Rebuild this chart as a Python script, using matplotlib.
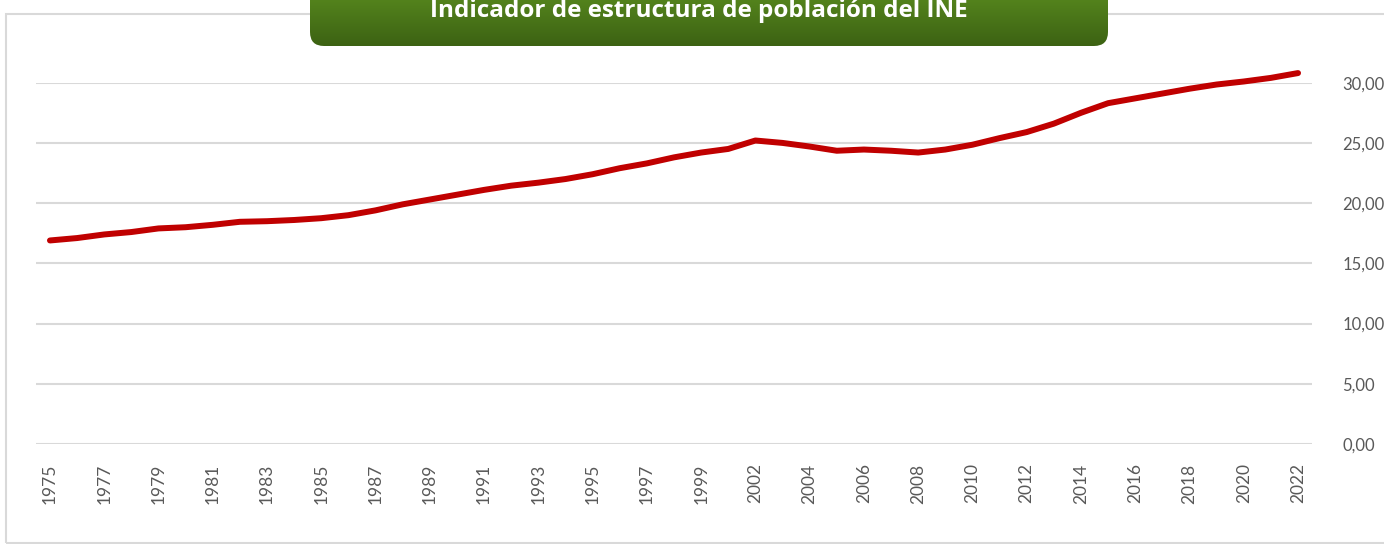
import numpy as np
import matplotlib
matplotlib.use("Agg")
from matplotlib import pyplot as plt
from matplotlib.patches import FancyBboxPatch, Rectangle

# datos (categorias del eje X)
anios = [str(a) for a in range(1975, 2001)] + [str(a) for a in range(2002, 2023)]
valores = [16.9, 17.1, 17.4, 17.6, 17.9, 18.0, 18.2, 18.45, 18.5, 18.6,
           18.75, 19.0, 19.4, 19.9, 20.3, 20.7, 21.1, 21.45, 21.7, 22.0,
           22.4, 22.9, 23.3, 23.8, 24.2, 24.5,
           25.2, 25.0, 24.7, 24.35, 24.45, 24.35, 24.2, 24.45, 24.85, 25.4,
           25.9, 26.6, 27.5, 28.3, 28.7, 29.1, 29.5, 29.85, 30.1, 30.4, 30.8]
yticks = [0, 5, 10, 15, 20, 25, 30]
titulo = "Indicador de estructura de población del INE"

W, H = 1384, 544
fig = plt.figure(figsize=(W / 100, H / 100), dpi=100)
fig.patch.set_facecolor("white")

# marco exterior del grafico (cortado a la derecha), por debajo de la caja del titulo
fig.patches.append(Rectangle((6 / W, 1.5 / H), 1.2, (541 - 12) / H,
                             transform=fig.transFigure, fill=False,
                             edgecolor="#d9d9d9", lw=1.5, zorder=-1))

ax = fig.add_axes([36.4 / W, 1 - 444 / H, (1311.6 - 36.4) / W, (444 - 82.7) / H])
ax.set_facecolor("none")
x = np.arange(len(anios))
ax.plot(x, valores, color="#c00000", lw=4.3, solid_capstyle="round",
        solid_joinstyle="round", clip_on=False, zorder=3)
ax.set_xlim(-0.5, len(anios) - 0.5)
ax.set_ylim(0, 30)
ax.set_yticks(yticks)
ax.set_yticklabels([f"{v:.2f}".replace(".", ",") for v in yticks])
ax.yaxis.tick_right()
ax.grid(axis="y", color="#d9d9d9", lw=1.5)
ax.set_axisbelow(True)
ax.set_xticks(x[::2])
ax.set_xticklabels(anios[::2], rotation=90)
for s in ax.spines.values():
    s.set_visible(False)
ax.tick_params(axis="y", length=0, pad=22, labelsize=12, labelcolor="#595959")
ax.tick_params(axis="x", length=0, pad=14, labelsize=12.5, labelcolor="#595959")
for lab in ax.get_xticklabels() + ax.get_yticklabels():
    lab.set_fontfamily("Lato")

# caja del titulo con degradado verde
tax = fig.add_axes([310 / W, 1 - 46 / H, (1108 - 310) / W, 60 / H])
tax.set_xlim(0, 798)
tax.set_ylim(0, 60)
tax.axis("off")
grad = np.linspace(0, 1, 100).reshape(-1, 1)
top = np.array([0x5a, 0x8c, 0x1f]) / 255
bot = np.array([0x3c, 0x62, 0x13]) / 255
img = top + (bot - top) * grad[:, :, None]
im = tax.imshow(img, extent=(0, 798, 0, 60), aspect="auto", origin="upper")
caja = FancyBboxPatch((0, 0), 798, 80, boxstyle="round,pad=0,rounding_size=14",
                      facecolor="none", edgecolor="none", transform=tax.transData)
tax.add_patch(caja)
im.set_clip_path(caja)
fig.text(699 / W, 1 - 17 / H, titulo, ha="center", va="baseline", color="white",
         fontsize=17.5, fontweight="bold", family="Open Sans")

fig.savefig("out.png", dpi=100)
